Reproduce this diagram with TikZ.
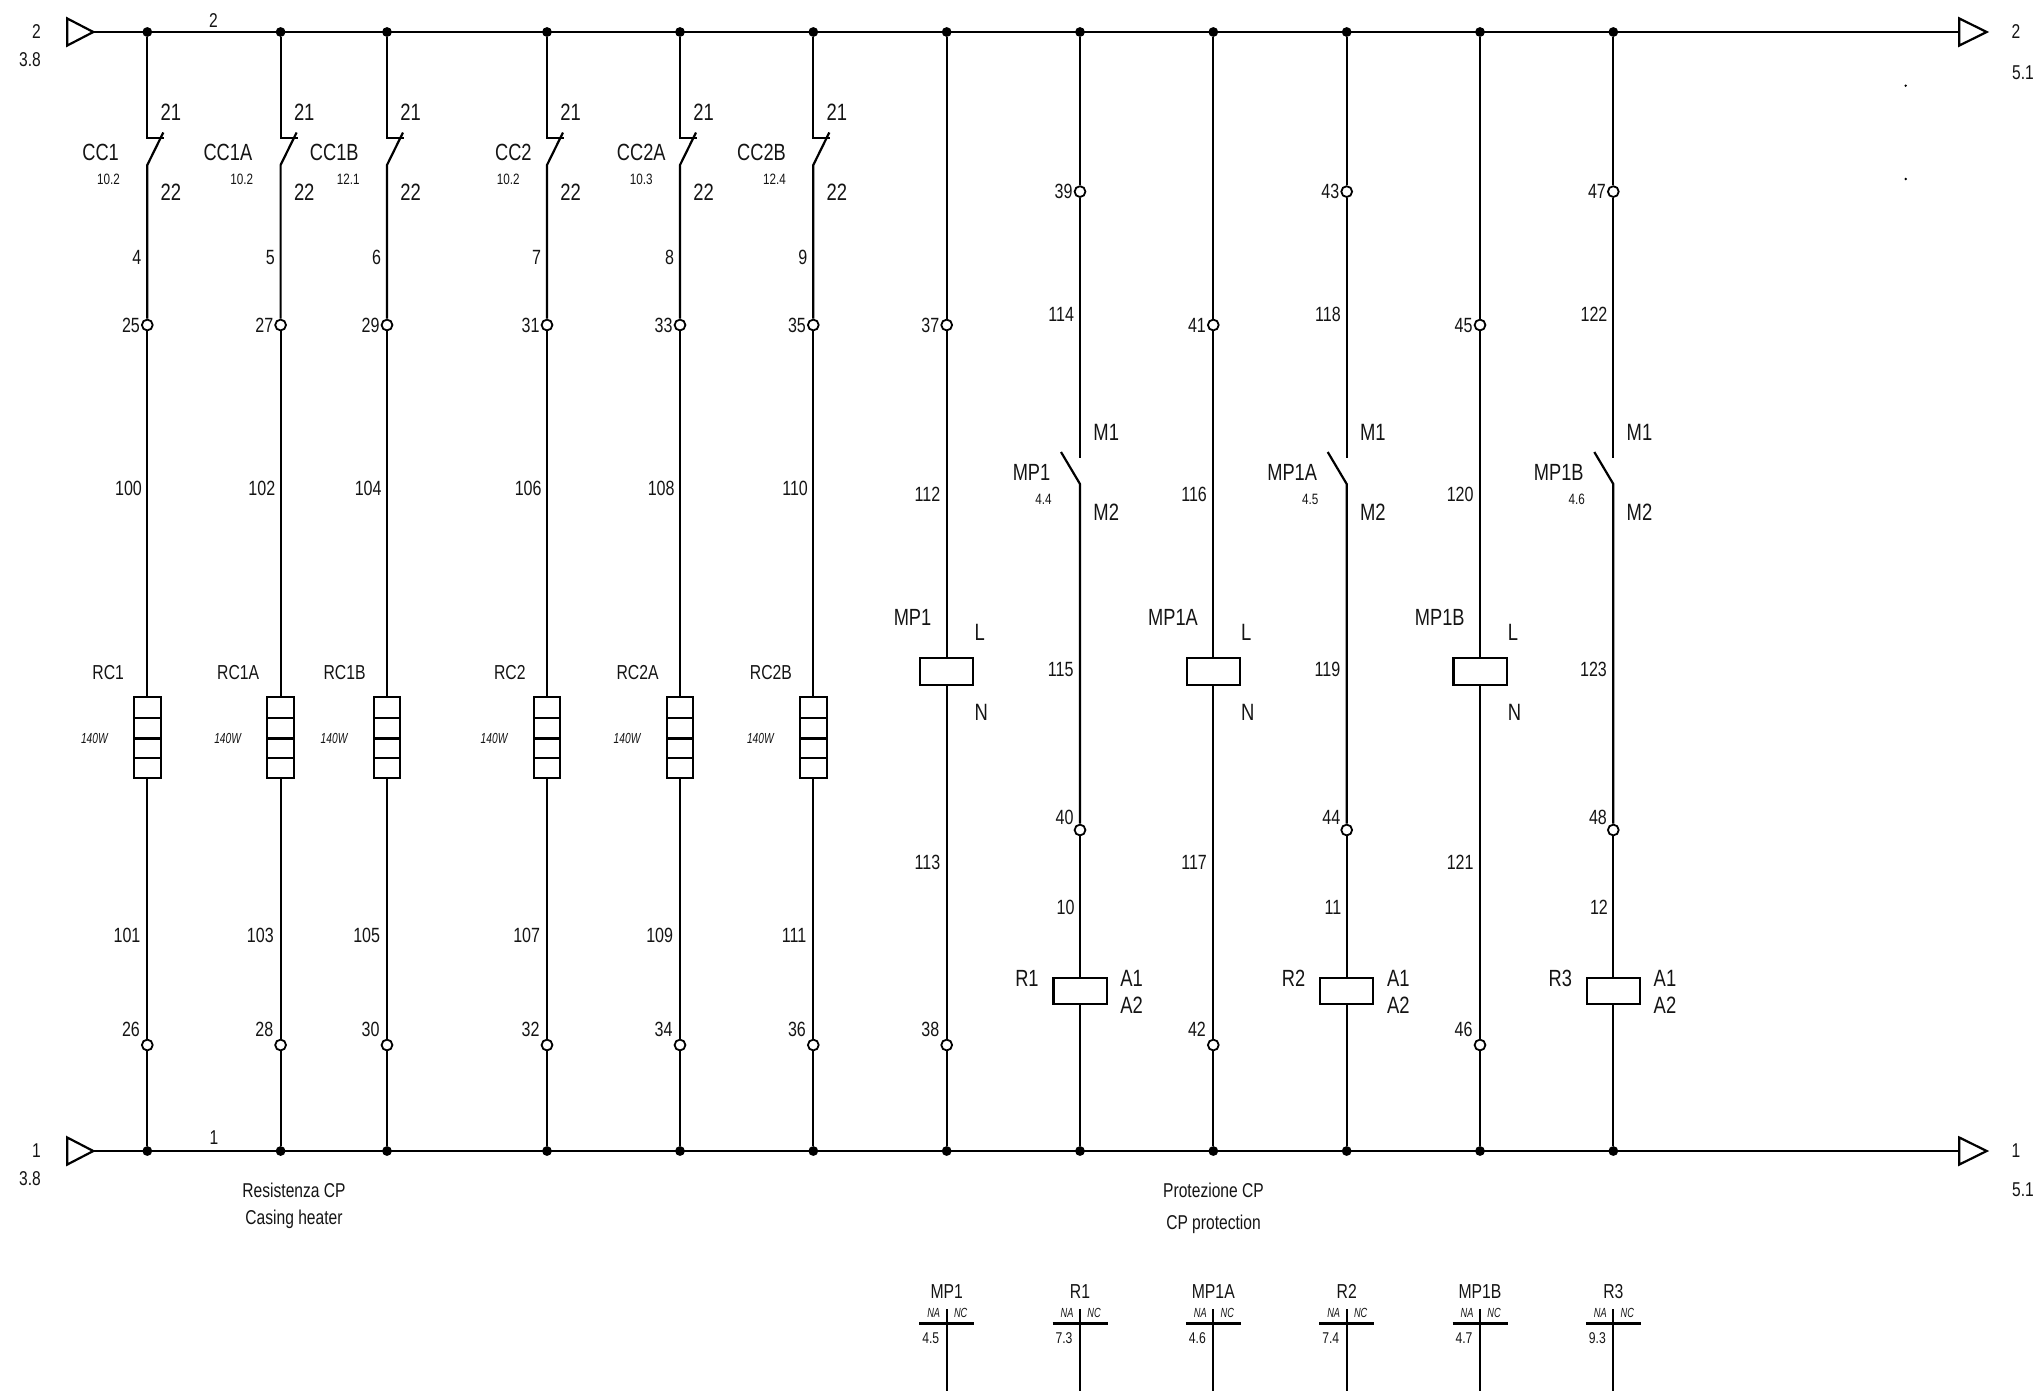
\documentclass[tikz,border=0pt]{standalone}
\usepackage{fontspec}
\setmainfont[FakeStretch=0.78]{Liberation Sans}
\newfontfamily\narrowf[FakeStretch=0.7]{Liberation Sans}
\newcommand{\fsz}[1]{\fontsize{#1}{#1}\selectfont}
\tikzset{
  wire/.style={line width=1.1pt,line join=miter},
  junc/.style={circle,fill=black,inner sep=0,minimum size=4.9pt},
  term/.style={circle,draw=black,fill=white,line width=0.9pt,inner sep=0,minimum size=5.4pt},
  heatbox/.style={rectangle,draw=black,fill=white,line width=1.1pt,inner sep=0,minimum width=13.3pt,minimum height=40.5pt},
  coilbox/.style={rectangle,draw=black,fill=white,line width=1.1pt,inner sep=0,minimum width=26.6pt,minimum height=13.3pt},
  txt/.style={inner sep=0,text depth=0pt,text=black!92},
  wl/.style={txt,font=\fsz{10.3},anchor=east,xshift=0.5pt},
  tag/.style={txt,font=\fsz{11.8},anchor=west},
  dev/.style={txt,font=\fsz{11.7},anchor=east},
  res/.style={txt,font=\fsz{10.1},anchor=east},
  xrefs/.style={txt,font=\fsz{7.5},anchor=east},
  watt/.style={txt,font=\narrowf\fsz{7.3}\itshape,anchor=east,xshift=-0.6pt},
  mid/.style={txt,font=\fsz{10}},
  tabtitle/.style={txt,font=\fsz{10.1}},
  tabhead/.style={txt,font=\narrowf\fsz{6.6}\itshape},
  tabval/.style={txt,font=\fsz{7.8}},
  busarrow/.style={draw=black,line width=1.1pt,line join=miter,fill=white},
}
\begin{document}
\begin{tikzpicture}[x=0.5pt,y=-0.5pt]
\useasboundingbox (0,0) rectangle (2044,1399);

% bus ends
\coordinate (t2a) at (67.3,18.5); \coordinate (t2b) at (67.3,45.5); \coordinate (t2c) at (93.3,32);
\coordinate (t1a) at (67.3,1137.5); \coordinate (t1b) at (67.3,1164.5); \coordinate (t1c) at (93.3,1151);
\coordinate (r2a) at (1959.3,18.5); \coordinate (r2b) at (1959.3,45.5); \coordinate (r2c) at (1986.7,32);
\coordinate (r1a) at (1959.3,1137.5); \coordinate (r1b) at (1959.3,1164.5); \coordinate (r1c) at (1986.7,1151);
\coordinate (r2in) at (1959.3,32); \coordinate (r1in) at (1959.3,1151);
\draw[wire] (t2c) -- (r2in);
\draw[wire] (t1c) -- (r1in);
\draw[busarrow] (t2a) -- (t2c) -- (t2b) -- cycle;
\draw[busarrow] (t1a) -- (t1c) -- (t1b) -- cycle;
\draw[busarrow] (r2a) -- (r2c) -- (r2b) -- cycle;
\draw[busarrow] (r1a) -- (r1c) -- (r1b) -- cycle;

\node[mid] (lb2a) at (36.5,32) {2};
\node[mid] (lb2b) at (30,60) {3.8};
\node[mid] (lb1a) at (36.5,1151) {1};
\node[mid] (lb1b) at (30,1178) {3.8};
\node[mid] (lb2c) at (2016,32) {2};
\node[mid] (lb2d) at (2023,73) {5.1};
\node[mid] (lb1c) at (2016,1151) {1};
\node[mid] (lb1d) at (2023,1190) {5.1};
\node[mid] (lb2e) at (213.5,21) {2};
\node[mid] (lb1e) at (214,1138) {1};

\node[mid] (f1) at (294,1190) {Resistenza CP};
\node[mid] (f2) at (294,1217) {Casing heater};
\node[mid] (f3) at (1213.5,1190) {Protezione CP};
\node[mid] (f4) at (1213.5,1222) {CP protection};

\fill[black] (1905.7,85.7) circle (1.3*0.5pt);
\fill[black] (1905.7,179) circle (1.3*0.5pt);

% heater columns
\foreach \i/\x/\cc/\cco/\xr/\wa/\ta/\tb/\wb/\wc/\rc/\rco in {
  1/147.3/CC1/28/10.2/4/25/26/100/101/RC1/23,
  2/280.6/CC1A/28/10.2/5/27/28/102/103/RC1A/21,
  3/387/CC1B/28/12.1/6/29/30/104/105/RC1B/21,
  4/547/CC2/15/10.2/7/31/32/106/107/RC2/21,
  5/680/CC2A/14/10.3/8/33/34/108/109/RC2A/21,
  6/813.3/CC2B/27/12.4/9/35/36/110/111/RC2B/21}{
  \node[junc] (jt\i) at (\x,32) {};
  \node[junc] (jb\i) at (\x,1151) {};
  \node[term] (ca\i) at (\x,325) {};
  \node[term] (cb\i) at (\x,1045) {};
  \node[heatbox] (h\i) at (\x,737.5) {};
  \coordinate (k\i) at (\x,138);
  \coordinate (ke\i) at (\x+17,138);
  \coordinate (sa\i) at (\x,165);
  \coordinate (sb\i) at (\x+16,132.5);
  \draw[wire] (jt\i) -- (k\i) -- (ke\i);
  \draw[wire] (sb\i) -- (sa\i) -- (ca\i);
  \draw[wire] (ca\i) -- (h\i);
  \draw[wire] (h\i) -- (cb\i);
  \draw[wire] (cb\i) -- (jb\i);
  \draw[wire] (\x-13.3,718) -- (\x+13.3,718);
  \draw[wire] (\x-13.3,738.5) -- (\x+13.3,738.5);
  \draw[wire] (\x-13.3,757.7) -- (\x+13.3,757.7);
  \node[tag] (n21\i) at (\x+13,112) {21};
  \node[tag] (n22\i) at (\x+13,192) {22};
  \node[dev] (ncc\i) at (\x-\cco,152) {\cc};
  \node[xrefs] (nxr\i) at (\x-27,179) {\xr};
  \node[wl] (nwa\i) at (\x-6.5,257) {\wa};
  \node[wl] (nta\i) at (\x-8,325) {\ta};
  \node[wl] (nwb\i) at (\x-6,488) {\wb};
  \node[res] (nrc\i) at (\x-\rco,672) {\rc};
  \node[watt] (nwt\i) at (\x-38,738) {140W};
  \node[wl] (nwc\i) at (\x-7.5,935) {\wc};
  \node[wl] (ntb\i) at (\x-8,1029) {\tb};
}

% coil columns (motor protector)
\foreach \i/\x/\nm/\ta/\tb/\wa/\wb in {
  1/946.7/MP1/37/38/112/113,
  2/1213.3/MP1A/41/42/116/117,
  3/1480/MP1B/45/46/120/121}{
  \node[junc] (pt\i) at (\x,32) {};
  \node[junc] (pb\i) at (\x,1151) {};
  \node[term] (pa\i) at (\x,325) {};
  \node[term] (pc\i) at (\x,1045) {};
  \node[coilbox] (pk\i) at (\x,671.5) {};
  \draw[wire] (pt\i) -- (pa\i);
  \draw[wire] (pa\i) -- (pk\i);
  \draw[wire] (pk\i) -- (pc\i);
  \draw[wire] (pc\i) -- (pb\i);
  \node[wl] (pnta\i) at (\x-8,325) {\ta};
  \node[wl] (pnwa\i) at (\x-7,494) {\wa};
  \node[dev] (pnm\i) at (\x-15,617) {\nm};
  \node[tag] (pnl\i) at (\x+27.5,632) {L};
  \node[tag] (pnn\i) at (\x+27.5,712) {N};
  \node[wl] (pnwb\i) at (\x-7,862) {\wb};
  \node[wl] (pntb\i) at (\x-8,1029) {\tb};
}

% switch + relay columns
\foreach \i/\x/\nm/\xr/\ta/\tb/\wa/\wb/\wc/\rl in {
  1/1080/MP1/4.4/39/40/114/115/10/R1,
  2/1346.7/MP1A/4.5/43/44/118/119/11/R2,
  3/1613.3/MP1B/4.6/47/48/122/123/12/R3}{
  \node[junc] (qt\i) at (\x,32) {};
  \node[junc] (qb\i) at (\x,1151) {};
  \node[term] (qa\i) at (\x,191.6) {};
  \node[term] (qc\i) at (\x,830) {};
  \node[coilbox] (qk\i) at (\x,991) {};
  \coordinate (qs\i) at (\x,458);
  \coordinate (qm\i) at (\x,484);
  \coordinate (qo\i) at (\x-19,452);
  \draw[wire] (qt\i) -- (qa\i);
  \draw[wire] (qa\i) -- (qs\i);
  \draw[wire] (qo\i) -- (qm\i) -- (qc\i);
  \draw[wire] (qc\i) -- (qk\i);
  \draw[wire] (qk\i) -- (qb\i);
  \node[wl] (qnta\i) at (\x-8,191.6) {\ta};
  \node[wl] (qnwa\i) at (\x-6.5,314) {\wa};
  \node[tag] (qnm1\i) at (\x+13,432) {M1};
  \node[tag] (qnm2\i) at (\x+13,512) {M2};
  \node[dev] (qnm\i) at (\x-29.3,472) {\nm};
  \node[xrefs] (qnx\i) at (\x-28,499) {\xr};
  \node[wl] (qnwb\i) at (\x-7,669) {\wb};
  \node[wl] (qntb\i) at (\x-7,817) {\tb};
  \node[wl] (qnwc\i) at (\x-6,907) {\wc};
  \node[dev] (qnr\i) at (\x-41,978) {\rl};
  \node[tag] (qna1\i) at (\x+40,978) {A1};
  \node[tag] (qna2\i) at (\x+40,1005) {A2};
}

% cross reference tables
\foreach \i/\x/\nm/\v in {
  1/946.7/MP1/4.5, 2/1080/R1/7.3, 3/1213.3/MP1A/4.6,
  4/1346.7/R2/7.4, 5/1480/MP1B/4.7, 6/1613.3/R3/9.3}{
  \coordinate (xt\i) at (\x,1309);
  \coordinate (xb\i) at (\x,1391);
  \coordinate (xl\i) at (\x-27.5,1323.5);
  \coordinate (xr\i) at (\x+27.5,1323.5);
  \draw[wire] (xt\i) -- (xb\i);
  \draw[wire] (xl\i) -- (xr\i);
  \node[tabtitle] (xn\i) at (\x,1291.5) {\nm};
  \node[tabhead] (xna\i) at (\x-13,1313) {NA};
  \node[tabhead] (xnc\i) at (\x+14,1313) {NC};
  \node[tabval] (xv\i) at (\x-16,1338) {\v};
}
\end{tikzpicture}
\end{document}
